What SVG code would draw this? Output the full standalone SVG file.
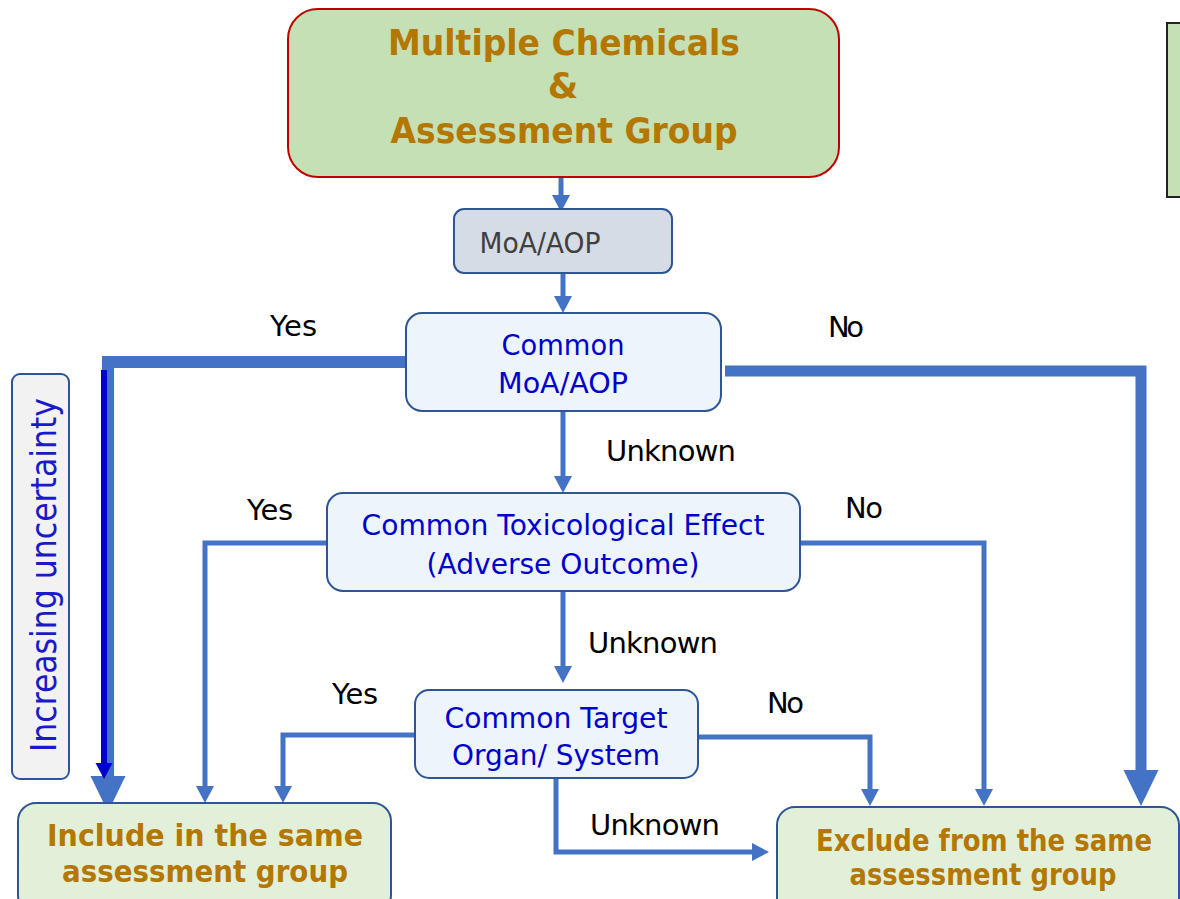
<svg xmlns="http://www.w3.org/2000/svg" width="1180" height="899" viewBox="0 0 1180 899">
<style>
.t{font-family:"DejaVu Sans","Liberation Sans",sans-serif;}
.title{font-weight:bold;fill:#b47800;font-size:35px;text-anchor:middle;}
.res{font-weight:bold;fill:#b47800;font-size:30px;text-anchor:middle;}
.q{fill:#0000cc;font-size:29px;text-anchor:middle;}
.lbl{fill:#000;font-size:29px;}
.node{stroke:#2f5597;stroke-width:2;}
.c{fill:none;stroke:#4472c4;stroke-linejoin:miter;}
.thin{stroke-width:5;}
</style>
<defs>
<marker id="aS" markerUnits="userSpaceOnUse" viewBox="0 -9 18 18" markerWidth="18" markerHeight="18" refX="0" refY="0" orient="auto"><path d="M0,-9 L17,0 L0,9z" fill="#4472c4"/></marker>
<marker id="aB" markerUnits="userSpaceOnUse" viewBox="0 -18 37 36" markerWidth="37" markerHeight="36" refX="0" refY="0" orient="auto"><path d="M0,-17.5 L36,0 L0,17.5z" fill="#4472c4"/></marker>
<marker id="aD" markerUnits="userSpaceOnUse" viewBox="0 -9 17 18" markerWidth="17" markerHeight="18" refX="0" refY="0" orient="auto"><path d="M0,-8.5 L16,0 L0,8.5z" fill="#0000cc"/></marker>
</defs>
<rect x="1167" y="23" width="40" height="174" fill="#c5e0b4" stroke="#222" stroke-width="2"/>
<g id="connectors">
<path class="c thin" d="M561,177 V195" marker-end="url(#aS)"/>
<path class="c thin" d="M563,273 V296" marker-end="url(#aS)"/>
<path class="c" stroke-width="12" d="M405,362 H108 V776" marker-end="url(#aB)"/>
<path fill="none" stroke="#0000cc" stroke-width="6" d="M104,370 V763" marker-end="url(#aD)"/>
<path class="c" stroke-width="11" d="M725,371 H1141 V770" marker-end="url(#aB)"/>
<path class="c thin" d="M563,411 V476" marker-end="url(#aS)"/>
<path class="c thin" d="M327,543 H205 V786" marker-end="url(#aS)"/>
<path class="c thin" d="M800,543 H984 V789" marker-end="url(#aS)"/>
<path class="c thin" d="M563,591 V666" marker-end="url(#aS)"/>
<path class="c thin" d="M415,735 H283 V786" marker-end="url(#aS)"/>
<path class="c thin" d="M698,737 H870 V789" marker-end="url(#aS)"/>
<path class="c thin" d="M556,778 V852 H752" marker-end="url(#aS)"/>
<text class="t lbl" x="270" y="336" textLength="47">Yes</text>
<text class="t lbl" x="828" y="337" textLength="36">No</text>
<text class="t lbl" x="606" y="461" textLength="130">Unknown</text>
<text class="t lbl" x="247" y="520" textLength="46">Yes</text>
<text class="t lbl" x="845" y="518" textLength="38">No</text>
<text class="t lbl" x="588" y="653" textLength="130">Unknown</text>
<text class="t lbl" x="332" y="704" textLength="46">Yes</text>
<text class="t lbl" x="767" y="713" textLength="37">No</text>
<text class="t lbl" x="590" y="835" textLength="130">Unknown</text>
</g>
<g id="n-start">
<rect x="288" y="9" width="551" height="168" rx="30" fill="#c5e0b4" stroke="#c00000" stroke-width="2"/>
<text class="t title" x="564" y="55" textLength="352" lengthAdjust="spacingAndGlyphs">Multiple Chemicals</text>
<text class="t title" x="563" y="98">&amp;</text>
<text class="t title" x="564" y="143" textLength="347" lengthAdjust="spacingAndGlyphs">Assessment Group</text>
</g>
<g id="n-moa">
<rect class="node" x="454" y="209" width="218" height="64" rx="10" fill="#d6dce5"/>
<text class="t" x="540" y="253" fill="#404040" font-size="29" text-anchor="middle" textLength="121" lengthAdjust="spacingAndGlyphs">MoA/AOP</text>
</g>
<g id="n-common">
<rect class="node" x="406" y="313" width="315" height="98" rx="16" fill="#edf4fb"/>
<text class="t q" x="563" y="355" textLength="123" lengthAdjust="spacingAndGlyphs">Common</text>
<text class="t q" x="563" y="393" textLength="130" lengthAdjust="spacingAndGlyphs">MoA/AOP</text>
</g>
<g id="n-tox">
<rect class="node" x="327" y="493" width="473" height="98" rx="16" fill="#edf4fb"/>
<text class="t q" x="563" y="535" textLength="403" lengthAdjust="spacingAndGlyphs">Common Toxicological Effect</text>
<text class="t q" x="563" y="574" textLength="273" lengthAdjust="spacingAndGlyphs">(Adverse Outcome)</text>
</g>
<g id="n-organ">
<rect class="node" x="415" y="690" width="283" height="88" rx="14" fill="#edf4fb"/>
<text class="t q" x="556" y="728" textLength="223" lengthAdjust="spacingAndGlyphs">Common Target</text>
<text class="t q" x="556" y="765" textLength="208" lengthAdjust="spacingAndGlyphs">Organ/ System</text>
</g>
<g id="n-uncertainty">
<rect class="node" x="12" y="374" width="57" height="405" rx="8" fill="#f2f2f2"/>
<text class="t" transform="translate(56,575) rotate(-90)" fill="#1a1acc" font-size="35" text-anchor="middle" textLength="354" lengthAdjust="spacingAndGlyphs">Increasing uncertainty</text>
</g>
<g id="n-include">
<rect class="node" x="18" y="803" width="373" height="110" rx="18" fill="#e2f0d9"/>
<text class="t res" x="205" y="846" textLength="316" lengthAdjust="spacingAndGlyphs">Include in the same</text>
<text class="t res" x="205" y="882" textLength="286" lengthAdjust="spacingAndGlyphs">assessment group</text>
</g>
<g id="n-exclude">
<rect class="node" x="777" y="807" width="402" height="110" rx="18" fill="#e2f0d9"/>
<text class="t res" x="984" y="851" textLength="336" lengthAdjust="spacingAndGlyphs">Exclude from the same</text>
<text class="t res" x="983" y="885" textLength="267" lengthAdjust="spacingAndGlyphs">assessment group</text>
</g>
</svg>
